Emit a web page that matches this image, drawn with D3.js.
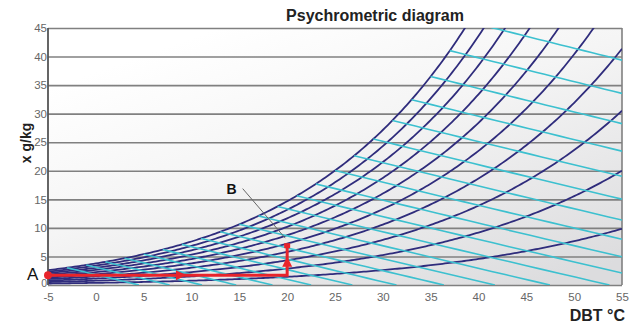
<!DOCTYPE html>
<html>
<head>
<meta charset="utf-8">
<script src="https://cdn.jsdelivr.net/npm/d3@7"></script>
<style>
  body { margin: 0; background: #fff; }
  text { font-family: "Liberation Sans", Arial, sans-serif; }
</style>
</head>
<body>
<div id="chart"></div>
<script>
// chart values
var dbtTicks = [-5, 0, 5, 10, 15, 20, 25, 30, 35, 40, 45, 50, 55];
var xTicks = [0, 5, 10, 15, 20, 25, 30, 35, 40, 45];
var rhLevels = [10, 20, 30, 40, 50, 60, 70, 80, 90, 100];          // % relative humidity curves
var wetBulbLevels = [-3, -1, 1, 3, 5, 7, 9, 11, 13, 15, 17, 19, 21,
                     23, 25, 27, 29, 31, 33, 35, 37, 39];           // °C, constant enthalpy lines
var processPts = [{t: -5, x: 1.7}, {t: 20, x: 1.7}, {t: 20, x: 6.8}]; // A -> heating -> humidify (B)
var arrowPts = [{t: 8.8, x: 1.7, dir: "right"}, {t: 20, x: 3.9, dir: "up"}];
var labelA = {t: -5, x: 1.7, text: "A"};
var labelB = {t: 14.2, x: 16.7, text: "B", to: {t: 19.8, x: 8.2}};

var P = 101.325; // kPa

// saturation pressure (Magnus), kPa
function pws(t){ return 0.61094 * Math.exp(17.625 * t / (t + 243.04)); }
function humRatio(t, rh){ var pw = rh / 100 * pws(t); return 622 * pw / (P - pw); }
function enthalpy(t, x){ return 1.006 * t + x / 1000 * (2501 + 1.86 * t); }

function getConfig(){
    let width = 635, height = 324;
    let margin = {top: 28, right: 13, bottom: 39, left: 48};
    let plot = {};
    plot.w = width - margin.left - margin.right;
    plot.h = height - margin.top - margin.bottom;
    return {width, height, margin, plot};
}

function draw(){
    let config = getConfig();
    let m = config.margin;

    let svg = d3.select("#chart").append("svg")
        .attr("width", config.width)
        .attr("height", config.height);

    let defs = svg.append("defs");
    let grad = defs.append("linearGradient").attr("id", "bg")
        .attr("x1", "0.3").attr("y1", "0").attr("x2", "1").attr("y2", "0.9");
    grad.append("stop").attr("offset", "0").attr("stop-color", "#ffffff");
    grad.append("stop").attr("offset", "0.4").attr("stop-color", "#f5f5f5");
    grad.append("stop").attr("offset", "1").attr("stop-color", "#dcdcde");

    defs.append("clipPath").attr("id", "clip")
        .append("rect").attr("width", config.plot.w).attr("height", config.plot.h);

    let xScale = d3.scaleLinear().domain([-5, 55]).range([0, config.plot.w]);
    let yScale = d3.scaleLinear().domain([0, 45]).range([config.plot.h, 0]);

    let g = svg.append("g").attr("transform", `translate(${m.left},${m.top})`);

    g.append("rect").attr("width", config.plot.w).attr("height", config.plot.h)
        .attr("fill", "url(#bg)");

    // gridlines
    let yAx = g.append("g")
        .call(d3.axisLeft(yScale).tickValues(xTicks).tickFormat(d => String(d))
              .tickSize(-config.plot.w).tickPadding(1));
    yAx.select(".domain").remove();
    yAx.selectAll(".tick line").attr("stroke", "#808080").attr("stroke-width", 1.6);
    yAx.selectAll(".tick text").attr("fill", "#666").attr("font-size", 11.5);
    yAx.selectAll(".tick text").filter(d => d == 0).attr("dy", "0.1em").attr("font-size", 10.5);

    let xAx = g.append("g")
        .attr("transform", `translate(0,${config.plot.h})`)
        .call(d3.axisBottom(xScale).tickValues(dbtTicks).tickFormat(d => String(d))
              .tickSize(0).tickPadding(8));
    xAx.select(".domain").remove();
    xAx.selectAll(".tick text").attr("fill", "#666").attr("font-size", 11.5);

    // right border
    g.append("line").attr("x1", config.plot.w).attr("x2", config.plot.w)
        .attr("y1", 0).attr("y2", config.plot.h)
        .attr("stroke", "#808080").attr("stroke-width", 1.6);

    let curves = g.append("g").attr("clip-path", "url(#clip)");
    let line = d3.line().x(d => xScale(d.t)).y(d => yScale(d.x));

    // relative humidity curves
    let temps = d3.range(-5, 55.01, 0.25);
    curves.selectAll("path.rh")
        .data(rhLevels)
        .join("path")
        .attr("class", "rh")
        .attr("d", rh => line(temps.map(t => ({t: t, x: humRatio(t, rh)}))))
        .attr("fill", "none")
        .attr("stroke", "#2f2c7c")
        .attr("stroke-width", 1.8);

    // constant enthalpy (wet bulb) lines
    curves.selectAll("path.h")
        .data(wetBulbLevels)
        .join("path")
        .attr("class", "h")
        .attr("d", tw => {
            let h = enthalpy(tw, humRatio(tw, 100));
            let tEnd = Math.min(55, h / 1.006);
            let pts = d3.range(tw, tEnd + 0.001, (tEnd - tw) / 20)
                .map(t => ({t: t, x: (h - 1.006 * t) / (2.501 + 0.00186 * t)}));
            return line(pts);
        })
        .attr("fill", "none")
        .attr("stroke", "#3cc0cf")
        .attr("stroke-width", 1.6);

    // left axis line
    g.append("line").attr("x1", 0).attr("x2", 0).attr("y1", 0).attr("y2", config.plot.h)
        .attr("stroke", "#555").attr("stroke-width", 1.8);

    // process line A -> B
    let red = "#e8242b";
    g.append("path").attr("d", line(processPts))
        .attr("fill", "none").attr("stroke", red).attr("stroke-width", 3);
    g.append("circle").attr("cx", xScale(labelA.t)).attr("cy", yScale(labelA.x))
        .attr("r", 4).attr("fill", red);
    let end = processPts[processPts.length - 1];
    g.append("rect").attr("x", xScale(end.t) - 3).attr("y", yScale(end.x) - 3)
        .attr("width", 6).attr("height", 5).attr("fill", red);
    g.selectAll("path.arrow")
        .data(arrowPts)
        .join("path")
        .attr("class", "arrow")
        .attr("transform", d => `translate(${xScale(d.t)},${yScale(d.x)}) rotate(${d.dir == "right" ? 90 : 0})`)
        .attr("d", "M0,-6 L5,4 L-5,4 Z")
        .attr("fill", red);

    // labels A, B
    g.append("text").attr("x", xScale(labelA.t) - 21).attr("y", yScale(labelA.x) + 5)
        .attr("font-size", 17).attr("fill", "#111").text(labelA.text);
    g.append("line")
        .attr("x1", xScale(labelB.t) + 11).attr("y1", yScale(labelB.x) - 1)
        .attr("x2", xScale(labelB.to.t)).attr("y2", yScale(labelB.to.x))
        .attr("stroke", "#666").attr("stroke-width", 1);
    g.append("text").attr("x", xScale(labelB.t)).attr("y", yScale(labelB.x) + 4)
        .attr("text-anchor", "middle").attr("font-size", 14).attr("font-weight", "bold")
        .attr("fill", "#111").text(labelB.text);

    // titles
    svg.append("text").attr("x", 375).attr("y", 21)
        .attr("text-anchor", "middle").attr("font-size", 16).attr("font-weight", "bold")
        .attr("fill", "#222").text("Psychrometric diagram");
    svg.append("text").attr("transform", "translate(31,143) rotate(-90)")
        .attr("text-anchor", "middle").attr("font-size", 14).attr("font-weight", "bold")
        .attr("fill", "#222").text("x g/kg");
    svg.append("text").attr("x", 625).attr("y", 321)
        .attr("text-anchor", "end").attr("font-size", 16).attr("font-weight", "bold")
        .attr("fill", "#222").text("DBT °C");
}

draw();
</script>
</body>
</html>
